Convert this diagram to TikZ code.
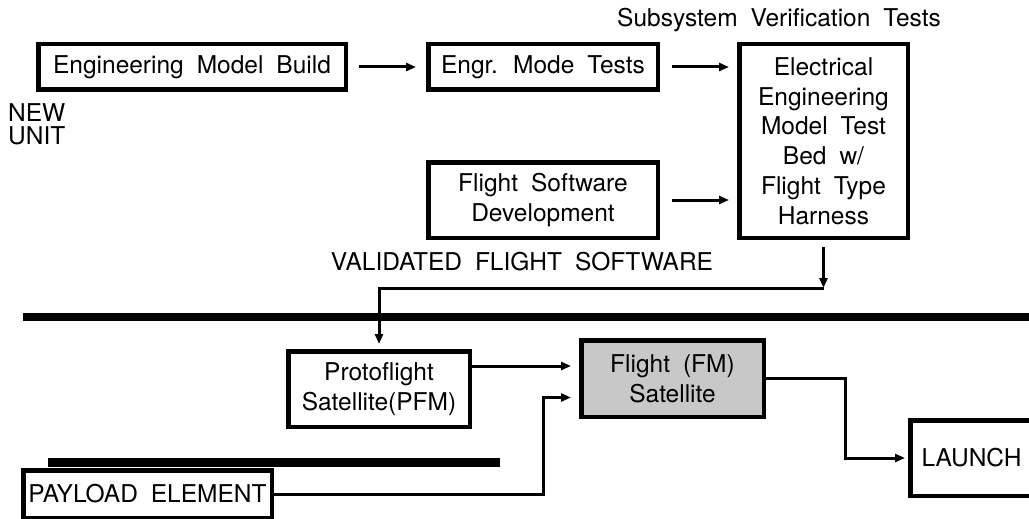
\documentclass[tikz,border=0pt]{standalone}
\usepackage{fontspec}
\setmainfont{TeX Gyre Heros}[WordSpace=1.9]
\usepackage{xcolor}
\usetikzlibrary{arrows.meta}
\definecolor{fmgray}{RGB}{200,200,200}

\begin{document}
\begin{tikzpicture}[x=1pt, y=-1pt, >={Triangle[length=10pt,width=8pt]},
  font=\fontsize{24.5}{29.8}\selectfont,
  box/.style={draw, line width=4.5pt, align=center, inner sep=0pt},
  link/.style={line width=3pt}]
\clip (0,0) rectangle (1029,519);
\fill[white] (0,0) rectangle (1029,519);
\node[box, minimum width=307.5pt, minimum height=45.5pt] (b) at (192,67) {Engineering Model Build};
\node[box, minimum width=229.5pt, minimum height=45.5pt] (t) at (543,67) {Engr. Mode Tests};
\node[box, minimum width=168.5pt, minimum height=193.5pt] (e) at (823.5,141) {Electrical\\Engineering\\Model Test\\Bed w/\\Flight Type\\Harness};
\node[box, minimum width=229.5pt, minimum height=75.5pt] (f) at (543,200) {Flight Software\\Development};
\node[box, minimum width=181.5pt, minimum height=75.5pt] (p) at (379,389) {Protoflight\\Satellite(PFM)};
\node[box, fill=fmgray, minimum width=182.5pt, minimum height=76.5pt] (s) at (672.5,378.5) {Flight (FM)\\Satellite};
\node[box, minimum width=122.5pt, minimum height=75.5pt] (l) at (971.5,458) {LAUNCH};
\node[box, minimum width=248.5pt, minimum height=47.5pt] (pl) at (147.5,494) {PAYLOAD ELEMENT};
\node (sv) at (779,20) {Subsystem Verification Tests};
\node[align=left, anchor=west, font=\fontsize{24.5}{23.5}\selectfont, inner sep=0pt] (nu) at (8,124.5) {NEW\\UNIT};
\node (vs) at (522,262) {VALIDATED FLIGHT SOFTWARE};
\draw[line width=8pt] (23,317) -- (1040,317);
\draw[line width=9pt] (48,462) -- (500,462);
\coordinate (c) at (823.5,288);
\coordinate[yshift=12.5pt] (s1) at (s.west);
\coordinate[yshift=-19pt] (s2) at (s.west);
\draw[->, link, shorten <=11pt, shorten >=10pt] (b) -- (t);
\draw[->, link, shorten <=12pt, shorten >=8pt] (t.east) -- (t.east -| e.west);
\draw[->, link, shorten <=12pt, shorten >=8pt] (f.east) -- (f.east -| e.west);
\draw[->, link, shorten <=7pt] (e.south) -- (c);
\draw[->, link, shorten >=5pt] (c) -| (p.north);
\draw[->, link, shorten >=8pt] (s1 -| p.east) -- (s1);
\draw[->, link, shorten >=8pt] (pl.east) -- ++(269,0) |- (s2);
\draw[->, link, shorten >=3pt] (s.east) -- ++(79,0) |- (l.west);
\end{tikzpicture}
\end{document}
